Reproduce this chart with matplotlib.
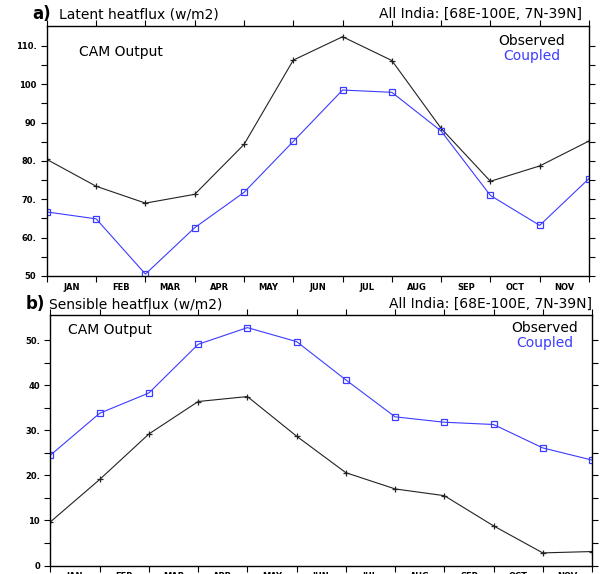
import numpy as np
import matplotlib
matplotlib.use("Agg")
import matplotlib.pyplot as plt

plt.rcParams['font.family'] = ['DejaVu Sans']

months = ["JAN", "FEB", "MAR", "APR", "MAY", "JUN", "JUL", "AUG", "SEP", "OCT", "NOV"]

# latent heat flux (w/m2), 12 monthly points
lat_obs = [80.4, 73.4, 69.0, 71.3, 84.3, 106.3, 112.4, 106.2, 88.5, 74.7, 78.7, 85.2]
lat_cpl = [66.7, 64.9, 50.5, 62.6, 71.8, 85.1, 98.5, 97.9, 87.8, 71.0, 63.2, 75.4]
lat_ticks = [50, 60, 70, 80, 90, 100, 110]
lat_ticklabels = ["50", "60.", "70.", "80.", "90", "100", "110."]

# sensible heat flux (w/m2)
sen_obs = [9.7, 19.1, 29.2, 36.4, 37.5, 28.7, 20.6, 17.0, 15.5, 8.8, 2.8, 3.1]
sen_cpl = [24.5, 33.8, 38.3, 49.1, 52.8, 49.7, 41.2, 33.0, 31.8, 31.3, 26.1, 23.4]
sen_ticks = [0, 10, 20, 30, 40, 50]
sen_ticklabels = ["0", "10", "20.", "30.", "40", "50."]

blue = "#3c3cff"
fs = 10

fig = plt.figure(figsize=(6.01, 5.74), dpi=100)
ax1 = fig.add_axes([0.078, 0.5192, 0.902, 0.4355])
ax2 = fig.add_axes([0.084, 0.0148, 0.901, 0.4364])

def style(ax, obs, cpl, ylim, ticks, ticklabels, minor):
    x = np.arange(len(obs))
    ax.plot(x, obs, color="#222222", lw=0.8, marker="+", ms=5, mew=0.9)
    ax.plot(x, cpl, color=blue, lw=0.8, marker="s", ms=4, mfc="none", mec=blue, mew=0.9)
    ax.set_xlim(0, 11)
    ax.set_ylim(*ylim)
    ax.set_xticks(np.arange(12))
    ax.set_xticklabels([])
    ax.set_xticks(np.arange(11) + 0.5, minor=True)
    ax.set_xticklabels(months, minor=True, fontsize=6, fontweight="bold")
    ax.set_yticks(ticks)
    ax.set_yticklabels(ticklabels, fontsize=6, fontweight="bold")
    ax.set_yticks(minor, minor=True)
    ax.tick_params(axis="both", which="both", direction="out", top=True, right=True,
                   labeltop=False, labelright=False, width=0.8)
    ax.tick_params(axis="both", which="major", length=4)
    ax.tick_params(axis="y", which="minor", length=4)
    ax.tick_params(axis="x", which="minor", top=False, bottom=False, length=0, pad=5)
    for s in ax.spines.values():
        s.set_linewidth(1.0)

style(ax1, lat_obs, lat_cpl, (50, 115.2), lat_ticks, lat_ticklabels, np.arange(55, 115, 10))
style(ax2, sen_obs, sen_cpl, (0, 55.6), sen_ticks, sen_ticklabels, np.arange(5, 55, 10))

# panel a texts
fig.text(32 / 601, 1 - 14 / 574, "a)", fontsize=12, fontweight="bold", va="center")
fig.text(59 / 601, 1 - 14 / 574, "Latent heatflux (w/m2)", fontsize=fs, va="center")
fig.text(582 / 601, 1 - 14 / 574, "All India: [68E-100E, 7N-39N]", fontsize=fs, va="center", ha="right")
fig.text(79 / 601, 1 - 52 / 574, "CAM Output", fontsize=fs, va="center")
fig.text(565 / 601, 1 - 41 / 574, "Observed", fontsize=fs, va="center", ha="right")
fig.text(560 / 601, 1 - 56 / 574, "Coupled", fontsize=fs, va="center", ha="right", color=blue)

# panel b texts
fig.text(26 / 601, 1 - 304 / 574, "b)", fontsize=12, fontweight="bold", va="center")
fig.text(49 / 601, 1 - 304 / 574, "Sensible heatflux (w/m2)", fontsize=fs, va="center")
fig.text(592 / 601, 1 - 304 / 574, "All India: [68E-100E, 7N-39N]", fontsize=fs, va="center", ha="right")
fig.text(68 / 601, 1 - 330 / 574, "CAM Output", fontsize=fs, va="center")
fig.text(578 / 601, 1 - 328 / 574, "Observed", fontsize=fs, va="center", ha="right")
fig.text(573 / 601, 1 - 343 / 574, "Coupled", fontsize=fs, va="center", ha="right", color=blue)

fig.savefig("out.png", dpi=100)
